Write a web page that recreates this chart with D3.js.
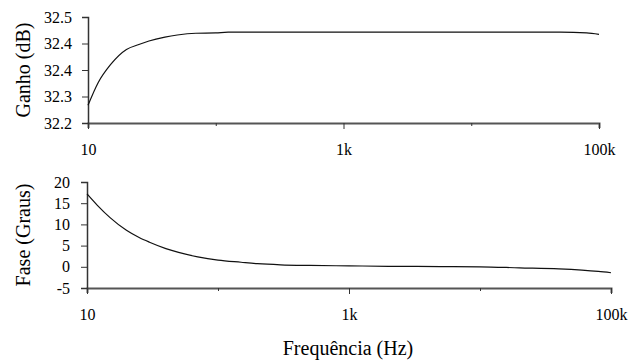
<!DOCTYPE html>
<html>
<head>
<meta charset="utf-8">
<script src="https://cdn.jsdelivr.net/npm/d3@7"></script>
<style>
  body { margin: 0; background: #fff; }
  svg { display: block; }
  text { font-family: "Liberation Serif", "Times New Roman", serif; }
</style>
</head>
<body>
<svg id="chart" width="640" height="360"></svg>
<script>
// frequency points (Hz) and readings from the picture
const gainFreq = [10, 12, 15, 20, 25, 30, 40, 50, 70, 100, 125, 200, 1000, 10000, 50000, 80000, 100000];
const gainDb = [32.25, 32.314, 32.365, 32.408, 32.422, 32.432, 32.443, 32.449, 32.454, 32.455, 32.457, 32.457, 32.457, 32.457, 32.457, 32.455, 32.451];

const phaseFreq = [10, 12, 15, 20, 25, 30, 40, 50, 70, 100, 150, 200, 300, 500, 1000, 2000, 5000, 10000, 20000, 40000, 60000, 80000, 100000];
const phaseDeg = [17.2, 14.5, 11.6, 8.6, 6.9, 5.8, 4.3, 3.4, 2.35, 1.57, 1.07, 0.74, 0.47, 0.32, 0.22, 0.12, 0.05, 0.0, -0.25, -0.5, -0.8, -1.1, -1.4];

const freqTicks = [10, 100, 1000, 10000, 100000];
const freqLabels = ["10", "", "1k", "", "100k"];

const gainTicks = [32.2, 32.275, 32.35, 32.425, 32.5];
const gainLabels = ["32.2", "32.3", "32.4", "32.4", "32.5"];

const phaseTicks = [-5, 0, 5, 10, 15, 20];

const svg = d3.select("#chart");

function panel(opts) {
    let g = svg.append("g");

    let xAxis = d3.axisBottom(opts.x)
        .tickValues(freqTicks)
        .tickSize(5)
        .tickPadding(opts.xPad)
        .tickFormat((d, i) => freqLabels[i]);

    let gx = g.append("g")
        .attr("transform", `translate(0,${opts.y.range()[0]})`)
        .call(xAxis);
    gx.select(".domain").attr("stroke", "#555").attr("stroke-width", 2);
    gx.selectAll(".tick line")
        .attr("stroke", "#333")
        .attr("y2", (d, i) => freqLabels[i] ? 6 : 3);
    gx.selectAll(".tick text")
        .attr("fill", "#000")
        .attr("font-size", 16)
        .style("font-family", '"Liberation Serif", serif');

    let yAxis = d3.axisLeft(opts.y)
        .tickValues(opts.yTicks)
        .tickSize(6)
        .tickPadding(opts.yPad)
        .tickFormat((d, i) => opts.yLabels[i]);

    let gy = g.append("g")
        .attr("transform", `translate(${opts.x.range()[0]},0)`)
        .call(yAxis);
    gy.select(".domain").attr("stroke", "#333").attr("stroke-width", 1.5);
    gy.selectAll(".tick line").attr("stroke", "#333");
    gy.selectAll(".tick text")
        .attr("fill", "#000")
        .attr("font-size", 16)
        .style("font-family", '"Liberation Serif", serif');

    let line = d3.line()
        .x((d, i) => opts.x(opts.xs[i]))
        .y(d => opts.y(d))
        .curve(d3.curveMonotoneX);

    g.append("path")
        .datum(opts.ys)
        .attr("fill", "none")
        .attr("stroke", "#111")
        .attr("stroke-width", 1.2)
        .attr("d", line);

    //rotated axis title
    let r = opts.y.range();
    g.append("text")
        .attr("transform", `translate(23,${(r[0] + r[1]) / 2}) rotate(-90)`)
        .attr("text-anchor", "middle")
        .attr("dominant-baseline", "central")
        .attr("font-size", 20)
        .text(opts.title);
}

panel({
    x: d3.scaleLog().domain([10, 100000]).range([88, 599]),
    y: d3.scaleLinear().domain([32.2, 32.5]).range([123, 17]),
    xs: gainFreq,
    ys: gainDb,
    yTicks: gainTicks,
    yLabels: gainLabels,
    xPad: 16,
    yPad: 10,
    title: "Ganho (dB)"
});

panel({
    x: d3.scaleLog().domain([10, 100000]).range([87, 611]),
    y: d3.scaleLinear().domain([-5, 20]).range([288, 182]),
    xs: phaseFreq,
    ys: phaseDeg,
    yTicks: phaseTicks,
    yLabels: phaseTicks.map(String),
    xPad: 16,
    yPad: 11,
    title: "Fase (Graus)"
});

svg.append("text")
    .attr("x", 348)
    .attr("y", 348)
    .attr("text-anchor", "middle")
    .attr("dominant-baseline", "central")
    .attr("font-size", 20)
    .text("Frequência (Hz)");
</script>
</body>
</html>
